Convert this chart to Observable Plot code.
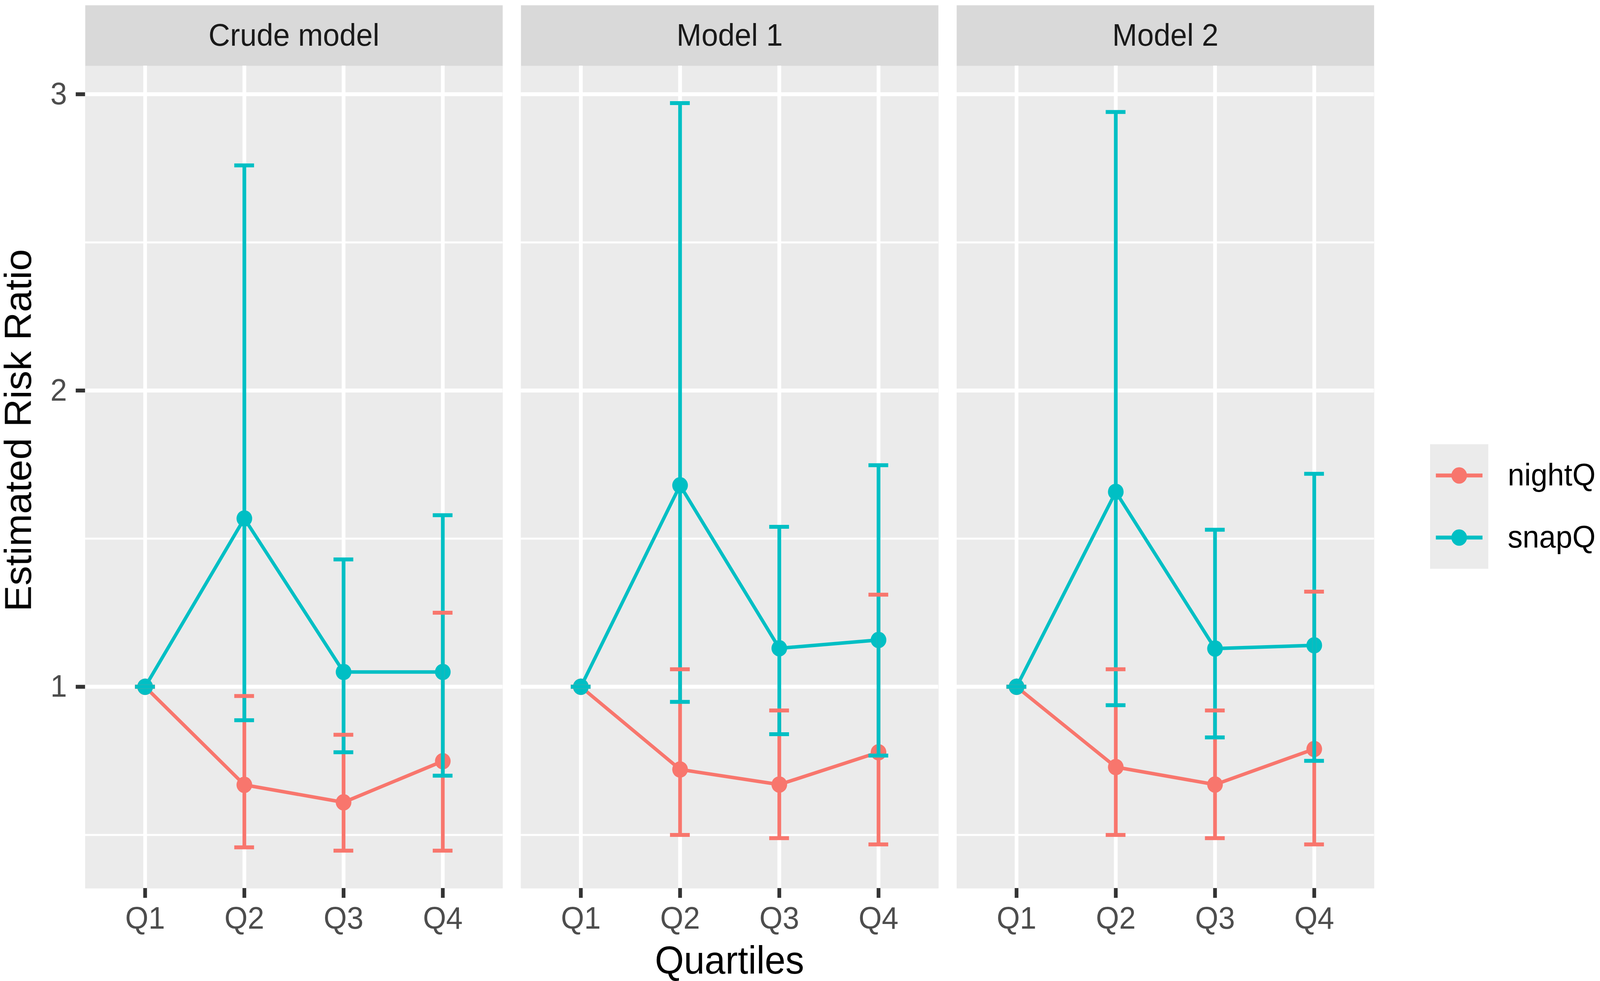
<!DOCTYPE html>
<html>
<head>
<meta charset="utf-8">
<script src="https://cdn.jsdelivr.net/npm/d3@7"></script>
<script src="https://cdn.jsdelivr.net/npm/@observablehq/plot@0.6"></script>
<style>
  html, body { margin: 0; padding: 0; background: #ffffff; overflow: hidden; }
  #wrap { position: relative; width: 4289px; height: 2512px; font-family: "Liberation Sans", Arial, Helvetica, sans-serif; transform-origin: 0 0; }
  #wrap svg { display: block; }
  .atitle { position: absolute; font-size: 100px; line-height: 100px; color: #000; white-space: nowrap; text-align: center; }
  #legend { position: absolute; left: 3833px; top: 1137px; }
</style>
</head>
<body>
<div id="wrap">
  <div id="chart"></div>
  <div id="legend"></div>
  <div class="atitle" id="xtitle" style="left:228px; width:3455px; top:2408px;">Quartiles</div>
  <div class="atitle" id="ytitle" style="left:-652px; width:1400px; top:1052px; height:100px; transform: rotate(-90deg); transform-origin: 700px 50px;">Estimated Risk Ratio</div>
</div>
<script>
// ---- data ----
const models = ["Crude model", "Model 1", "Model 2"];
const quartiles = ["Q1", "Q2", "Q3", "Q4"];
const seriesNames = ["nightQ", "snapQ"];
const seriesColors = ["#F8766D", "#00BFC4"];
const yTicks = [1, 2, 3];
const yMinorTicks = [0.5, 1.5, 2.5];

// [model][quartile]
const nightQ_RR    = [[1, 0.669, 0.610, 0.749], [1, 0.721, 0.670, 0.779], [1, 0.729, 0.670, 0.790]];
const nightQ_lower = [[1, 0.458, 0.447, 0.447], [1, 0.500, 0.489, 0.468], [1, 0.500, 0.489, 0.468]];
const nightQ_upper = [[1, 0.969, 0.838, 1.250], [1, 1.059, 0.920, 1.311], [1, 1.059, 0.920, 1.321]];
const snapQ_RR     = [[1, 1.568, 1.050, 1.050], [1, 1.680, 1.130, 1.158], [1, 1.658, 1.129, 1.140]];
const snapQ_lower  = [[1, 0.887, 0.779, 0.700], [1, 0.949, 0.840, 0.768], [1, 0.938, 0.829, 0.750]];
const snapQ_upper  = [[1, 2.760, 1.430, 1.579], [1, 2.970, 1.540, 1.748], [1, 2.940, 1.530, 1.719]];

const seriesData = {
  nightQ: {rr: nightQ_RR, lo: nightQ_lower, hi: nightQ_upper},
  snapQ: {rr: snapQ_RR, lo: snapQ_lower, hi: snapQ_upper}
};

const rows = [];
for (const s of seriesNames) {
  models.forEach((m, mi) => {
    quartiles.forEach((q, qi) => {
      rows.push({series: s, model: m, quartile: q,
        rr: seriesData[s].rr[mi][qi], lo: seriesData[s].lo[mi][qi], hi: seriesData[s].hi[mi][qi]});
    });
  });
}

const FONT = '"Liberation Sans", Arial, Helvetica, sans-serif';

const chart = Plot.plot({
  width: 4289,
  height: 2512,
  marginLeft: 228,
  marginRight: 606,
  marginTop: 168,
  marginBottom: 238,
  style: {fontFamily: FONT, background: "#ffffff", overflow: "visible"},
  fx: {domain: models, paddingInner: 0.042, paddingOuter: 0, axis: null, label: null},
  x: {type: "band", domain: quartiles, paddingInner: 0.8, paddingOuter: 0.5, label: null},
  y: {domain: [0.32, 3.096], label: null},
  color: {domain: seriesNames, range: seriesColors},
  marks: [
    Plot.frame({fill: "#D9D9D9", stroke: null, insetTop: -155}),
    Plot.frame({fill: "#EBEBEB", stroke: null}),
    Plot.gridY({ticks: yMinorTicks, stroke: "#ffffff", strokeOpacity: 1, strokeWidth: 5}),
    Plot.gridY({ticks: yTicks, stroke: "#ffffff", strokeOpacity: 1, strokeWidth: 10}),
    Plot.gridX({stroke: "#ffffff", strokeOpacity: 1, strokeWidth: 10}),
    Plot.axisY({ticks: yTicks, tickFormat: d3.format("d"), tickSize: 25, tickPadding: 24, fontSize: 80, stroke: "#333333", strokeWidth: 10, fill: "#4D4D4D", label: null}),
    Plot.axisX({tickSize: 25, tickPadding: 22, fontSize: 80, stroke: "#333333", strokeWidth: 10, fill: "#4D4D4D", label: null}),
    Plot.line(rows, {fx: "model", x: "quartile", y: "rr", z: "series", stroke: "series", strokeWidth: 9}),
    Plot.dot(rows, {fx: "model", x: "quartile", y: "rr", fill: "series", r: 21, stroke: null}),
    Plot.ruleX(rows, {fx: "model", x: "quartile", y1: "lo", y2: "hi", stroke: "series", strokeWidth: 10}),
    Plot.tickY(rows, {fx: "model", x: "quartile", y: "lo", stroke: "series", strokeWidth: 10}),
    Plot.tickY(rows, {fx: "model", x: "quartile", y: "hi", stroke: "series", strokeWidth: 10}),
    Plot.text(models, {fx: d => d, text: d => d, frameAnchor: "top", dy: -77, lineAnchor: "middle", fontSize: 80, fill: "#1A1A1A"})
  ]
});
document.getElementById("chart").appendChild(chart);

const legend = Plot.plot({
  width: 456,
  height: 319,
  marginLeft: 0,
  marginRight: 300,
  marginTop: 0,
  marginBottom: 0,
  style: {fontFamily: FONT, background: "transparent", overflow: "visible"},
  x: {axis: null},
  y: {type: "point", domain: seriesNames, range: [80, 239], padding: 0, axis: null},
  color: {domain: seriesNames, range: seriesColors},
  marks: [
    Plot.frame({fill: "#EBEBEB", stroke: null}),
    Plot.ruleY(seriesNames, {y: d => d, stroke: d => d, strokeWidth: 10, insetLeft: 16, insetRight: 15}),
    Plot.dot(seriesNames, {y: d => d, fill: d => d, r: 21, stroke: null}),
    Plot.text(seriesNames, {y: d => d, text: d => d, frameAnchor: "right", dx: 52, textAnchor: "start", lineAnchor: "middle", fontSize: 80, fill: "#000000"})
  ]
});
document.getElementById("legend").appendChild(legend);

// fit the 4289-px-wide layout into the visible viewport width
const vw = window.innerWidth || document.documentElement.clientWidth || 4289;
const sx = Math.min(1, vw / 4289);
if (sx < 1) document.getElementById("wrap").style.transform = `scaleX(${sx})`;
</script>
</body>
</html>
